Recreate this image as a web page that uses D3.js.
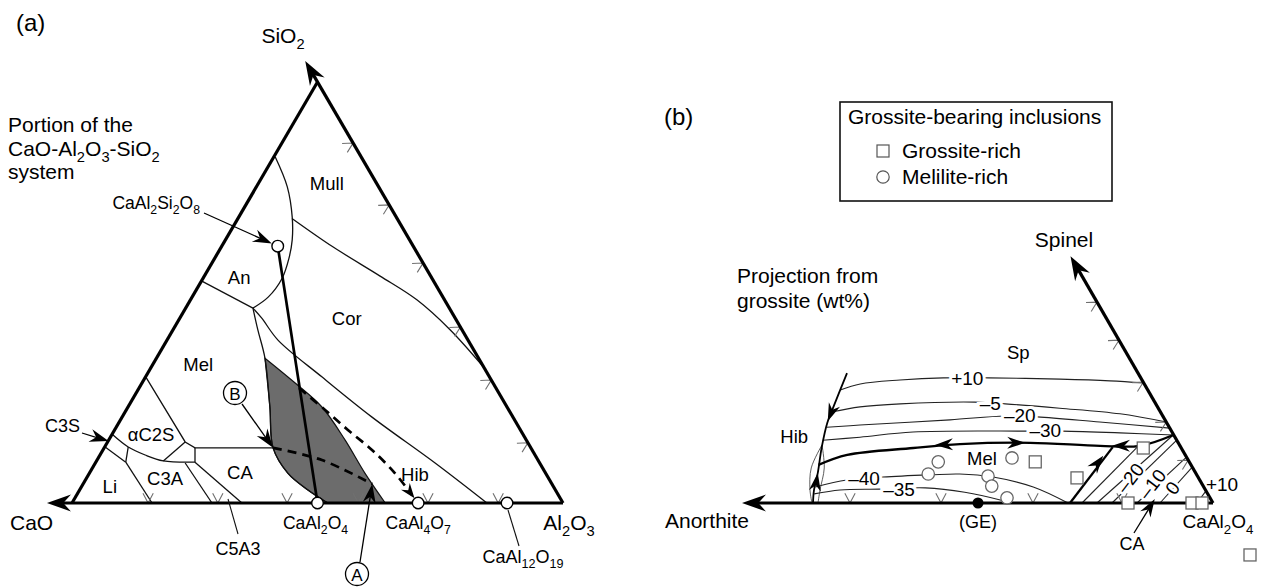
<!DOCTYPE html>
<meta charset="utf-8">
<html>
<head>
    <script src="https://d3js.org/d3.v7.min.js"></script>
    <style>
        body { margin: 0; background: #fff; }
        svg text { font-family: "Liberation Sans", Arial, Helvetica, sans-serif; fill: #000; }
    </style>
</head>
<body>
<script>

var width = 1271;
var height = 587;

/// ---------- (a) CaO-Al2O3-SiO2, points as [Al2O3 %, SiO2 %] (CaO = rest)
var compoundNames = ["CaAl_2Si_2O_8", "CaAl_2O_4", "CaAl_4O_7", "CaAl_12O_19"];
var compoundAl2O3 = [11.4, 50.0, 70.5, 88.6];
var compoundSiO2 = [61.0, 0, 0, 0];

// field boundaries (curved)
var anCurve = [[0.3, 82.2], [6.3, 75.1], [10.9, 67.9], [13.6, 62.5], [15.1, 58.2], [16.1, 53.4], [15.5, 48.9], [13.7, 46.3]];
var mullCor = [[11.0, 67.6], [22.8, 60.8], [35.8, 53.9], [46.2, 48.2], [56.5, 41.1], [67.9, 32.1]];
var melEdge = [[13.7, 46.3], [17.3, 41.1], [22.1, 34.4], [28.9, 22.8], [34.4, 13.1], [40.4, 7.1], [46.5, 3.1], [52.1, 0]];
var corHib = [[13.7, 46.3], [16.7, 43.9], [22.6, 38.7], [36.0, 29.9], [50.9, 20.4], [69.2, 9.5], [84.5, 0]];
var c2sBottom = [[0.2, 16.2], [4.8, 13.3], [9.2, 11.4], [13.6, 10.0], [20.2, 9.7]];
// field boundaries (straight)
var anMel = [[0.1, 52.7], [13.7, 46.3]];
var c2sMel = [[0.1, 29.9], [15.8, 14.5], [18.5, 13.1], [34.4, 13.1]];
var c2sC3aLeft = [[15.8, 14.5], [13.6, 10.0]];
var c2sC3aRight = [[20.2, 9.7], [18.5, 13.1]];
var c3sBottom = [[0.1, 13.3], [6.1, 9.7]];
var c3sCross = [[4.8, 13.3], [6.1, 9.7]];
var liC3a = [[6.1, 9.7], [16.3, 0]];
var c3aC5a3 = [[18.3, 9.5], [28.5, 0]];
var c5a3Ca = [[20.2, 9.7], [34.6, 0]];

// shaded field, left/lower edge and right edge
var shadedLeft = [[22.1, 34.4], [28.9, 22.8], [34.4, 13.1], [40.4, 7.1], [46.5, 3.1], [52.1, 0]];
var shadedRight = [[63.8, 0], [56.1, 7.1], [48.1, 15.0], [39.5, 22.8], [31.2, 28.5], [22.1, 34.4]];

var joinAnCA = [[11.4, 61.0], [50.0, 0]];
var dashedB = [[34.4, 13.1], [45.8, 10.2], [58.9, 4.5]];
var dashedCA2 = [[32.6, 27.3], [40.5, 22.1], [47.6, 17.3], [54.8, 12.6], [62.2, 7.1], [68.3, 1.9], [70.5, 0]];
var pointB = [34.4, 13.1];
var pointA = [58.9, 4.5];
var pointC3S = [0.1, 14.7];

var baseTicksA = [15.5, 29.7, 43.8, 58.3, 72.5, 86.8];   // Al2O3 on CaO-Al2O3 join
var sideTicksA = [85.5, 70.8, 57.0, 41.8, 29.2, 14.3];   // SiO2 on Al2O3-SiO2 join

var fieldsA = ["Mull", "An", "Cor", "Mel", "αC2S", "C3A", "CA", "Li", "Hib"];
var fieldsAPos = [[13.9, 76.0], [7.2, 53.7], [34.0, 43.9], [9.2, 33.0], [7.9, 16.4], [16.0, 5.9], [30.5, 7.4], [5.7, 4.0], [66.4, 6.9]];

/// ---------- (b) projection from grossite, points as [CaAl2O4 %, Spinel %] (Anorthite = rest)
var hibBoundary = [[11.8, 30.0], [13.1, 21.5], [13.6, 18.5], [15.3, 12.9], [17.5, 6.9], [18.7, 3.0], [20.0, 0]];
var hibLensA = [[15.1, 13.4], [15.6, 8.1], [17.9, 3.0], [19.8, 0]];
var hibLensB = [[15.1, 13.4], [18.2, 8.1], [19.9, 3.0], [21.0, 0]];

var contourValues = ["+10", "–5", "–20", "–30", "–40", "–35"];
var contourP10 = [[12.4, 26.1], [15.7, 27.5], [23.2, 28.4], [31.6, 28.9], [40.6, 28.9], [55.1, 28.6], [65.3, 28.2], [72.3, 27.7]];
var contourM5 = [[13.2, 21.0], [18.3, 22.2], [26.0, 22.9], [40.7, 23.3], [47.0, 22.9], [58.4, 21.9], [71.1, 20.6], [81.3, 18.7]];
var contourM20 = [[14.0, 17.5], [20.4, 18.0], [37.8, 19.2], [48.4, 20.1], [54.9, 19.9], [68.0, 18.7], [82.7, 17.3]];
var contourM30 = [[14.7, 14.5], [21.8, 15.2], [31.8, 16.4], [54.5, 16.6], [61.5, 16.6], [73.3, 16.2], [84.3, 15.7]];
var contourM40 = [[18.6, 3.7], [24.1, 5.3], [31.0, 6.0], [40.2, 6.5], [46.0, 6.7], [53.0, 6.0], [62.2, 3.7], [71.0, 0]];
var contourM35 = [[19.2, 2.1], [23.9, 3.0], [31.8, 3.2], [40.7, 3.5], [49.1, 2.5], [57.1, 0.7], [59.4, 0]];
var contourLabelAt = [[36.4, 28.9], [43.9, 23.1], [51.2, 20.3], [58.0, 16.9], [27.3, 5.8], [35.6, 3.2]];

var melSp = [[16.7, 8.8], [21.3, 11.1], [33.7, 12.7], [42.6, 13.6], [56.5, 13.9], [70.8, 13.2], [78.8, 13.2], [84.2, 15.7]];
var melSpArrows = [[[37.7, 13.4], [42.6, 13.6]], [[55.5, 13.9], [50.5, 13.9]], [[73.2, 13.2], [77.8, 13.2]]];
var melCA = [[71.4, 0], [73.5, 12.9]];
var melCAArrow = [[72.6, 10.9], [71.9, 6.9]];

var caContours = [[[73.8, 0], [78.6, 13.4]], [[76.8, 0], [84.2, 15.7]], [[79.8, 0], [85.5, 14.5]],
                  [[84.8, 0], [89.4, 10.6]], [[89.4, 0], [91.7, 8.3]], [[96.8, 0], [97.2, 2.8]]];
var caContourValues = ["", "", "–20", "–10", "0", "+10"];
var caLabelAt = [null, null, [80.5, 5.8], [85.6, 4.4], [90.1, 3.5], [99.6, 4.4]];

var grossiteC = [59.7, 69.9, 79.7, 83.0, 95.8, 97.8, 113.4];
var grossiteS = [9.5, 5.8, 12.7, 0, 0, 0, -12.0];
var meliliteC = [40.3, 39.7, 51.9, 53.8, 58.2, 54.6];
var meliliteS = [9.5, 6.7, 6.2, 3.9, 1.2, 10.4];
var pointGE = [53.0, 0];
var pointCA = [87.9, 0.9];

var baseTicksB = [27.4, 45.6, 64.0, 81.8];
var sideTicksB = [46.4, 37.6, 27.9, 18.7, 9.9];

var fieldsB = ["Sp", "Mel", "Hib"];
var fieldsBPos = [[43.6, 34.9], [48.6, 10.4], [8.5, 15.5]];

var legendTitle = "Grossite-bearing inclusions";
var legendLabels = ["Grossite-rich", "Melilite-rich"];

/// ---------- scales
var xA = d3.scaleLinear().domain([0, 100]).range([72, 563]);
var yA = d3.scaleLinear().domain([0, 100]).range([503, 82]);
function ptA(d) { return [xA(d[0] + d[1] / 2), yA(d[1])]; }

var xB = d3.scaleLinear().domain([0, 100]).range([713, 1213]);
var yB = d3.scaleLinear().domain([0, 100]).range([503, 70]);
function ptB(d) { return [xB(d[0] + d[1] / 2), yB(d[1])]; }

var smooth = d3.line().curve(d3.curveCatmullRom.alpha(0.5));
var straight = d3.line();

var svg = d3.select("body").append("svg")
    .attr("width", width)
    .attr("height", height);

/// ---------- helpers
function ponta(g, tip, from, len, half) {
    var dx = tip[0] - from[0], dy = tip[1] - from[1], d = Math.hypot(dx, dy);
    var ux = dx / d, uy = dy / d, nx = -uy, ny = ux;
    var bx = tip[0] - ux * len, by = tip[1] - uy * len;
    var mx = tip[0] - ux * len * 0.68, my = tip[1] - uy * len * 0.68;
    g.append("path")
        .attr("d", "M" + tip + "L" + [bx + nx * half, by + ny * half] + "L" + [mx, my] + "L" + [bx - nx * half, by - ny * half] + "Z")
        .attr("fill", "#000");
}

function seta(g, a, b, w, len, half) {
    var dx = b[0] - a[0], dy = b[1] - a[1], d = Math.hypot(dx, dy);
    var stop = [b[0] - dx / d * len * 0.6, b[1] - dy / d * len * 0.6];
    g.append("path").attr("d", "M" + a + "L" + stop)
        .attr("stroke", "#000").attr("stroke-width", w).attr("fill", "none");
    ponta(g, b, a, len, half);
}

function chevron(g, p, angDeg) {
    var L = 11, h = 28 * Math.PI / 180, ang = angDeg * Math.PI / 180;
    var a1 = [p[0] + L * Math.cos(ang - h), p[1] + L * Math.sin(ang - h)];
    var a2 = [p[0] + L * Math.cos(ang + h), p[1] + L * Math.sin(ang + h)];
    g.append("path").attr("d", "M" + a1 + "L" + p + "L" + a2)
        .attr("fill", "none").attr("stroke", "#707070").attr("stroke-width", 1.1);
}

function addText(g, x, y, str, fs, anchor) {
    var t = g.append("text").attr("x", x).attr("y", y)
        .attr("font-size", fs).attr("text-anchor", anchor || "start");
    var sub = false;
    str.split(/(_\d+)/).forEach(function (p) {
        if (p === "") return;
        if (p[0] === "_") {
            t.append("tspan").attr("font-size", fs * 0.7).attr("dy", sub ? 0 : fs * 0.3).text(p.slice(1));
            sub = true;
        } else {
            t.append("tspan").attr("dy", sub ? -fs * 0.3 : 0).text(p);
            sub = false;
        }
    });
    return t;
}

function thin(g, path, w, col) {
    return g.append("path").attr("d", path).attr("fill", "none")
        .attr("stroke", col || "#111").attr("stroke-width", w || 1.3);
}

/// ============ PANEL (a)
var gA = svg.append("g");

// shaded field
gA.append("path")
    .attr("d", smooth(shadedLeft.map(ptA)) + smooth(shadedRight.map(ptA)).replace(/^M/, "L") + "Z")
    .attr("fill", "#6c6c6c").attr("stroke", "#111").attr("stroke-width", 1.2);

[anCurve, mullCor, melEdge, corHib, c2sBottom].forEach(function (c) { thin(gA, smooth(c.map(ptA))); });
[anMel, c2sMel, c2sC3aLeft, c2sC3aRight, c3sBottom, c3sCross, liC3a, c3aC5a3, c5a3Ca]
    .forEach(function (c) { thin(gA, straight(c.map(ptA))); });

// anorthite - CaAl2O4 join
thin(gA, straight(joinAnCA.map(ptA)), 2.7, "#000");

// dashed paths
thin(gA, smooth(dashedB.map(ptA)), 2.7, "#000").attr("stroke-dasharray", "9,6");
var ca2 = ptA(dashedCA2[dashedCA2.length - 1]), ca2From = ptA(dashedCA2[dashedCA2.length - 2]);
var dd = Math.hypot(ca2[0] - ca2From[0], ca2[1] - ca2From[1]);
var ca2Tip = [ca2[0] - (ca2[0] - ca2From[0]) / dd * 6, ca2[1] - (ca2[1] - ca2From[1]) / dd * 6];
thin(gA, smooth(dashedCA2.slice(0, -1).map(ptA)), 2.7, "#000").attr("stroke-dasharray", "9,6");
ponta(gA, ca2Tip, ca2From, 15, 5.5);

// edge ticks
baseTicksA.forEach(function (v) { chevron(gA, ptA([v, 0]), -90); });
sideTicksA.forEach(function (v) { chevron(gA, ptA([100 - v, v]), 149.8); });

// triangle
thin(gA, straight([[0, 0], [0, 100]].map(ptA)), 3.2, "#000");
seta(gA, ptA([100, 0]), ptA([-5.1, 0]), 3.2, 24, 8.5);
seta(gA, ptA([100, 0]), ptA([-5, 105]), 3.2, 24, 8.5);

// compounds
gA.selectAll("circle.cmp")
    .data(compoundNames)
    .enter().append("circle")
    .attr("class", "cmp")
    .attr("cx", function (d, i) { return ptA([compoundAl2O3[i], compoundSiO2[i]])[0]; })
    .attr("cy", function (d, i) { return ptA([compoundAl2O3[i], compoundSiO2[i]])[1]; })
    .attr("r", 5.8)
    .attr("fill", "#fff").attr("stroke", "#000").attr("stroke-width", 1.4);

// field labels
fieldsA.forEach(function (f, i) {
    var p = ptA(fieldsAPos[i]);
    gA.append("text").attr("x", p[0]).attr("y", p[1]).attr("dy", "0.36em")
        .attr("text-anchor", "middle").attr("font-size", 18.5).text(f);
});

// labels and pointers
addText(gA, 16, 31, "(a)", 24);
addText(gA, 283, 43, "SiO_2", 21, "middle");
addText(gA, 8, 132, "Portion of the", 21);
addText(gA, 8, 156, "CaO-Al_2O_3-SiO_2", 21);
addText(gA, 8, 179, "system", 21);

var pAn = ptA([compoundAl2O3[0], compoundSiO2[0]]);
addText(gA, 200, 209, compoundNames[0], 17.5, "end");
(function () {
    var a = [204, 213], dx = pAn[0] - a[0], dy = pAn[1] - a[1], d = Math.hypot(dx, dy);
    seta(gA, a, [pAn[0] - dx / d * 6.5, pAn[1] - dy / d * 6.5], 1.3, 19, 6.5);
})();

addText(gA, 80, 432, "C3S", 18, "end");
seta(gA, [82, 433], ptA(pointC3S), 1.3, 19, 6.5);

gA.append("circle").attr("cx", 235).attr("cy", 393).attr("r", 11.5)
    .attr("fill", "#fff").attr("stroke", "#000").attr("stroke-width", 1.3);
addText(gA, 235, 399.5, "B", 17, "middle");
seta(gA, [242, 404], ptA(pointB), 1.3, 19, 6.5);

gA.append("circle").attr("cx", 357).attr("cy", 574).attr("r", 11.5)
    .attr("fill", "#fff").attr("stroke", "#000").attr("stroke-width", 1.3);
addText(gA, 357, 580.5, "A", 17, "middle");
seta(gA, [360, 562], ptA(pointA), 1.3, 19, 6.5);

addText(gA, 10, 530, "CaO", 21);
addText(gA, 569, 530, "Al_2O_3", 21, "middle");
addText(gA, ptA([50, 0])[0] - 2, 529, compoundNames[1], 17.5, "middle");
addText(gA, ptA([70.5, 0])[0], 529, compoundNames[2], 17.5, "middle");
addText(gA, 523, 563, compoundNames[3], 18, "middle");
thin(gA, "M508,510L519,546", 1.1);
addText(gA, 238, 555, "C5A3", 18, "middle");
thin(gA, "M228,499L238,534", 1.1);

/// ============ PANEL (b)
var gB = svg.append("g");

// contours
[contourP10, contourM5, contourM20, contourM30, contourM40, contourM35]
    .forEach(function (c) { thin(gB, smooth(c.map(ptB)), 1.1, "#222"); });
[hibLensA, hibLensB].forEach(function (c) { thin(gB, smooth(c.map(ptB)), 0.8, "#333"); });
caContours.forEach(function (c) { thin(gB, straight(c.map(ptB)), 1.1, "#222"); });

// thick boundaries
thin(gB, smooth(hibBoundary.map(ptB)), 1.8, "#000");
ponta(gB, ptB([13.5, 18.9]), ptB(hibBoundary[0]), 18, 6);
ponta(gB, ptB(hibBoundary[4]), ptB(hibBoundary[6]), 18, 6);
thin(gB, smooth(melSp.map(ptB)), 2.3, "#000");
melSpArrows.forEach(function (a) { ponta(gB, ptB(a[0]), ptB(a[1]), 18, 6); });
thin(gB, straight(melCA.map(ptB)), 2.3, "#000");
ponta(gB, ptB(melCAArrow[0]), ptB(melCAArrow[1]), 18, 6);

// contour labels (white halo breaks the line)
contourValues.forEach(function (v, i) {
    var p = ptB(contourLabelAt[i]);
    gB.append("text").attr("x", p[0]).attr("y", p[1]).attr("dy", "0.36em")
        .attr("text-anchor", "middle").attr("font-size", 19)
        .attr("stroke", "#fff").attr("stroke-width", 6).attr("paint-order", "stroke")
        .text(v);
});
caContourValues.forEach(function (v, i) {
    if (!v) return;
    var p = ptB(caLabelAt[i]);
    var rot = v === "+10" ? 0 : -52;
    gB.append("text").attr("transform", "translate(" + p + ") rotate(" + rot + ")")
        .attr("dy", "0.36em").attr("text-anchor", "middle").attr("font-size", 19)
        .attr("stroke", rot ? "#fff" : "none").attr("stroke-width", 5).attr("paint-order", "stroke")
        .text(v);
});

// edge ticks
baseTicksB.forEach(function (v) { chevron(gB, ptB([v, 0]), -90); });
sideTicksB.forEach(function (v) { chevron(gB, ptB([100 - v, v]), 150); });

// triangle edges
seta(gB, ptB([100, 0]), ptB([5.8, 0]), 3.2, 24, 8.5);
seta(gB, ptB([100, 0]), ptB([43, 57]), 3.2, 24, 8.5);

// inclusions
gB.selectAll("circle.mel")
    .data(meliliteC)
    .enter().append("circle")
    .attr("class", "mel")
    .attr("cx", function (d, i) { return ptB([d, meliliteS[i]])[0]; })
    .attr("cy", function (d, i) { return ptB([d, meliliteS[i]])[1]; })
    .attr("r", 6.2)
    .attr("fill", "#fff").attr("stroke", "#666").attr("stroke-width", 1.3);

gB.selectAll("rect.gro")
    .data(grossiteC)
    .enter().append("rect")
    .attr("class", "gro")
    .attr("x", function (d, i) { return ptB([d, grossiteS[i]])[0] - 6; })
    .attr("y", function (d, i) { return ptB([d, grossiteS[i]])[1] - 6; })
    .attr("width", 12).attr("height", 12)
    .attr("fill", "#fff").attr("stroke", "#666").attr("stroke-width", 1.3);

var pGE = ptB(pointGE);
gB.append("circle").attr("cx", pGE[0]).attr("cy", pGE[1]).attr("r", 5.5).attr("fill", "#000");

// field labels
fieldsB.forEach(function (f, i) {
    var p = ptB(fieldsBPos[i]);
    gB.append("text").attr("x", p[0]).attr("y", p[1]).attr("dy", "0.36em")
        .attr("text-anchor", "middle").attr("font-size", 18.5).text(f);
});

// texts
addText(gB, 664, 125, "(b)", 24);
addText(gB, 737, 283, "Projection from", 21);
addText(gB, 737, 308, "grossite (wt%)", 21);
addText(gB, 1064, 247, "Spinel", 21, "middle");
addText(gB, 665, 528, "Anorthite", 21);
addText(gB, pGE[0], 528, "(GE)", 18, "middle");
addText(gB, 1218, 528, "CaAl_2O_4", 19, "middle");
addText(gB, 1132, 550, "CA", 18, "middle");
seta(gB, [1134, 533], ptB(pointCA), 1.3, 18, 6);

// legend
var leg = gB.append("g");
leg.append("rect").attr("x", 840).attr("y", 102).attr("width", 272).attr("height", 99)
    .attr("fill", "#fff").attr("stroke", "#111").attr("stroke-width", 1.6);
addText(leg, 848, 124, legendTitle, 21);
legendLabels.forEach(function (l, i) {
    addText(leg, 902, 158 + i * 26, l, 21);
});
leg.append("rect").attr("x", 877).attr("y", 145).attr("width", 12).attr("height", 12)
    .attr("fill", "#fff").attr("stroke", "#555").attr("stroke-width", 1.2);
leg.append("circle").attr("cx", 883).attr("cy", 177).attr("r", 6.2)
    .attr("fill", "#fff").attr("stroke", "#555").attr("stroke-width", 1.2);

</script>
</body>
</html>
